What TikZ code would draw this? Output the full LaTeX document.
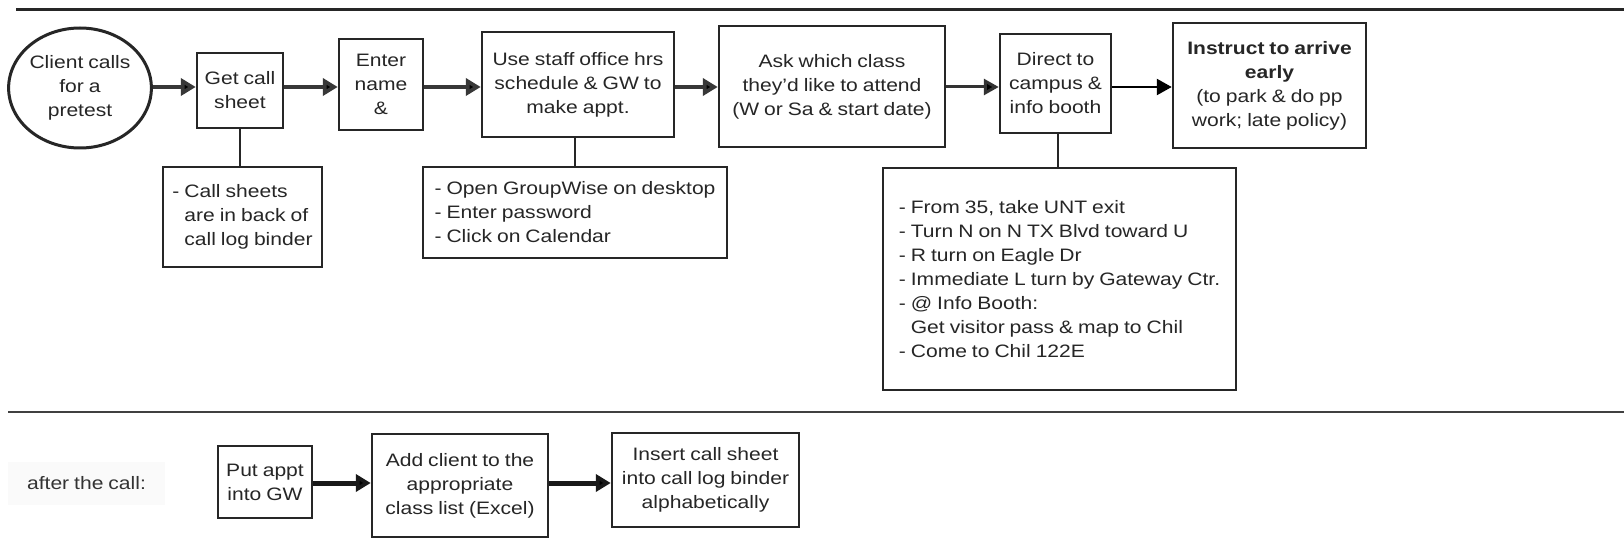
\documentclass[tikz,border=0pt]{standalone}
\usepackage{fontspec}
\setmainfont[FakeStretch=1.17,WordSpace=0.85]{Liberation Sans}
\usetikzlibrary{arrows.meta,shapes.geometric}
\newcommand\diagfont{\fontsize{18pt}{24pt}\selectfont}
\tikzset{
  box/.style={draw=black!85, line width=2.5pt, fill=white, inner sep=0pt,
    align=center, text=black!85, font=\diagfont},
  lbox/.style={box, align=left},
  oval/.style={ellipse, draw=black!85, line width=3pt, fill=white, inner sep=0pt,
    align=center, text=black!85, font=\diagfont},
  bigarrow/.style={line width=4pt, draw=black!78, -{Triangle[length=15pt,width=17pt,fill=black]}},
  midarrow/.style={line width=3pt, draw=black!80, -{Triangle[length=15pt,width=16pt,fill=black]}},
  thinarrow/.style={line width=2.5pt, draw=black, -{Triangle[length=15pt,width=16pt,fill=black]}},
  botarrow/.style={line width=5pt, draw=black!90, -{Triangle[length=15pt,width=17pt,fill=black]}},
  link/.style={line width=2.5pt, draw=black!85},
  rule/.style={line width=3pt, draw=black!85},
  plain/.style={inner sep=0pt, align=center, text=black!80, font=\diagfont}
}
\begin{document}
\begin{tikzpicture}[x=1pt,y=-1pt]
\useasboundingbox (0,0) rectangle (1624,548);
\fill[white] (0,0) rectangle (1624,548);

% section rules
\draw[rule] (16,10) -- (1624,10);
\draw[rule, line width=2.5pt, draw=black!75] (8,412) -- (1624,412);

\coordinate (row) at (0,87);
\coordinate (row2) at (0,483);

% top row
\node[oval, minimum width=134pt, minimum height=120pt] (client) at (80,88)
  {Client calls\\for a\\pretest};
\node[box, minimum width=86pt, minimum height=75pt] (getcall) at (240,90.5)
  {Get call\\sheet};
\node[box, minimum width=84pt, minimum height=91pt] (enter) at (381,84.5)
  {Enter\\name\\\&};
\node[box, minimum width=192pt, minimum height=105pt] (usestaff) at (578,84.5)
  {Use staff office hrs\\schedule \& GW to\\make appt.};
\node[box, minimum width=226pt, minimum height=121pt] (ask) at (832,86.5)
  {Ask which class\\they{\char"0027}d like to attend\\(W or Sa \& start date)};
\node[box, minimum width=111pt, minimum height=99pt] (direct) at (1055.5,83.5)
  {Direct to\\campus \&\\info booth};
\node[box, minimum width=193pt, minimum height=125pt] (instruct) at (1269.5,85.5)
  {\textbf{Instruct to arrive}\\\textbf{early}\\(to park \& do pp\\work; late policy)};

% detail boxes
\node[lbox, minimum width=159pt, minimum height=100pt] (callsheets) at (242.5,217)
  {- Call sheets\\\hphantom{- }are in back of\\\hphantom{- }call log binder};
\node[lbox, minimum width=304pt, minimum height=91pt] (groupwise) at (575,212.5)
  {- Open GroupWise on desktop\\- Enter password\\- Click on Calendar};
\node[lbox, minimum width=353pt, minimum height=222pt] (directions) at (1059.5,279)
  {- From 35, take UNT exit\\- Turn N on N TX Blvd toward U\\- R turn on Eagle Dr\\- Immediate L turn by Gateway Ctr.\\- @ Info Booth:\\\hphantom{- }Get visitor pass \& map to Chil\\- Come to Chil 122E};

% bottom row
\node[plain, fill=black!2, minimum width=157pt, minimum height=43pt] (after) at (86.5,483.5)
  {after the call:};
\node[box, minimum width=94pt, minimum height=72pt] (putappt) at (265,482)
  {Put appt\\into GW};
\node[box, minimum width=176pt, minimum height=103pt] (addclient) at (460,485.5)
  {Add client to the\\appropriate\\class list (Excel)};
\node[box, minimum width=187pt, minimum height=94pt] (insert) at (705.5,480)
  {Insert call sheet\\into call log binder\\alphabetically};

% connectors top row
\draw[bigarrow] (client.east |- row) -- (getcall.west |- row);
\draw[bigarrow] (getcall.east |- row) -- (enter.west |- row);
\draw[bigarrow] (enter.east |- row) -- (usestaff.west |- row);
\draw[bigarrow] (usestaff.east |- row) -- (ask.west |- row);
\draw[midarrow] (ask.east |- row) -- (direct.west |- row);
\draw[thinarrow] (direct.east |- row) -- (instruct.west |- row);

% vertical links
\draw[link] (getcall.south) -- (getcall.south |- callsheets.north);
\draw[link] ([xshift=-3pt]usestaff.south) -- ([xshift=-3pt]usestaff.south |- groupwise.north);
\draw[link] ([xshift=2.5pt]direct.south) -- ([xshift=2.5pt]direct.south |- directions.north);

% bottom arrows
\draw[botarrow] (putappt.east |- row2) -- (addclient.west |- row2);
\draw[botarrow] (addclient.east |- row2) -- (insert.west |- row2);
\end{tikzpicture}
\end{document}
